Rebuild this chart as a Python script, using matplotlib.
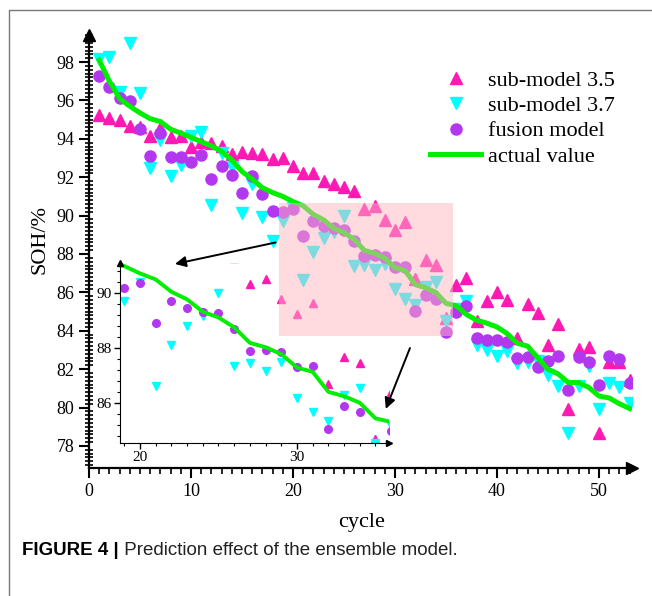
import numpy as np
import matplotlib
matplotlib.use("Agg")
import matplotlib.pyplot as plt
from matplotlib.ticker import MultipleLocator
from matplotlib.patches import Rectangle
from matplotlib.lines import Line2D

# data
cycle = np.arange(1, 54)
sub35 = [95.24, 95.07, 95.00, 94.67, 94.60, 94.15, 94.55, 94.11, 94.15, 93.59,
         93.85, 93.80, 93.63, 93.20, 93.33, 93.24, 93.20, 92.95, 92.98, 92.60,
         92.24, 92.24, 91.82, 91.65, 91.50, 91.30, 90.33, 90.51, 89.78, 89.24,
         89.66, 86.68, 87.68, 87.44, 84.66, 86.39, 86.75, 84.50, 85.57, 86.04,
         85.60, 83.60, 85.38, 84.94, 83.26, 84.35, 79.91, 83.04, 83.17, 78.69,
         82.39, 82.39, 81.44]
sub37 = [98.14, 98.24, 96.45, 98.97, 96.37, 92.46, 93.94, 92.08, 92.64, 94.15,
         94.37, 90.55, 93.24, 92.55, 90.12, 91.65, 89.94, 88.70, 89.72, 90.42,
         86.62, 88.11, 88.82, 89.17, 90.00, 87.35, 87.44, 87.16, 87.48, 86.16,
         85.65, 85.34, 86.28, 86.55, 84.52, 85.15, 85.57, 83.26, 83.00, 82.69,
         82.96, 82.31, 82.39, 82.40, 81.70, 81.13, 78.69, 81.13, 82.17, 79.91,
         81.26, 81.05, 80.22]
fusion = [97.27, 96.68, 96.14, 95.98, 94.50, 93.10, 94.32, 93.07, 93.07, 92.78,
          93.16, 91.89, 92.58, 92.11, 91.20, 92.08, 91.11, 90.26, 90.18, 90.37,
          88.93, 89.73, 89.45, 89.33, 89.27, 88.68, 87.90, 87.93, 87.84, 87.32,
          87.34, 85.04, 85.88, 85.67, 83.95, 84.98, 85.30, 83.60, 83.52, 83.52,
          83.43, 82.57, 82.65, 82.10, 82.44, 82.69, 80.92, 82.62, 82.39, 81.18,
          82.69, 82.51, 81.26]
actual = [98.10, 97.00, 96.10, 95.70, 95.35, 95.05, 94.90, 94.50, 94.30, 94.08,
          93.85, 93.63, 93.35, 92.90, 92.30, 91.90, 91.45, 91.20, 91.00, 90.73,
          90.51, 90.06, 89.78, 89.33, 89.12, 88.76, 88.19, 88.03, 87.78, 87.29,
          87.13, 86.40, 86.24, 86.00, 85.43, 85.30, 84.85, 84.55, 84.40, 84.20,
          83.85, 83.35, 83.20, 82.60, 82.00, 81.75, 81.30, 81.30, 81.05, 80.60,
          80.50, 80.20, 79.95]

C35 = '#FF19B4'
C37 = '#00FFFF'
CFU = '#B437F0'
CAC = '#00EE00'

serif = ['Liberation Serif', 'DejaVu Serif']
sans = ['Liberation Sans', 'DejaVu Sans']
plt.rcParams['font.family'] = serif

W, H = 652, 596


def px_box(l, t, r, b):
    return [l / W, 1 - b / H, (r - l) / W, (b - t) / H]


fig = plt.figure(figsize=(W / 100, H / 100), dpi=100)

# main axes
ax = fig.add_axes(px_box(89, 35, 632, 468))
ax.plot(cycle, sub35, '^', ls='none', color=C35, ms=8, label='sub-model 3.5')
ax.plot(cycle, sub37, 'v', ls='none', color=C37, ms=8, label='sub-model 3.7')
ax.plot(cycle, fusion, 'o', ls='none', color=CFU, ms=8, label='fusion model')
ax.plot(cycle, actual, '-', color=CAC, lw=3.6, label='actual value')

ax.set_xlim(0, 53.24)
ax.set_ylim(76.85, 99.41)
ax.xaxis.set_major_locator(MultipleLocator(10))
ax.xaxis.set_minor_locator(MultipleLocator(1))
ax.yaxis.set_major_locator(MultipleLocator(2))
ax.yaxis.set_minor_locator(MultipleLocator(0.2))
for s in ['top', 'right']:
    ax.spines[s].set_visible(False)
for s in ['left', 'bottom']:
    ax.spines[s].set_linewidth(1.6)
ax.tick_params(which='major', direction='out', length=7, width=1.5, labelsize=13)
ax.tick_params(which='minor', direction='out', length=4, width=1.2)
ax.tick_params(axis='y', which='minor', direction='inout', length=6)
ax.plot(1, 0, '>k', ms=9, transform=ax.transAxes, clip_on=False)
ax.plot(0, 1, '^k', ms=9, transform=ax.transAxes, clip_on=False)

ax.legend(loc='upper left', bbox_to_anchor=(430 / W, 1 - 70 / H),
          bbox_transform=fig.transFigure, frameon=False, borderpad=0,
          borderaxespad=0, handlelength=2.3, handletextpad=0.3,
          labelspacing=0.22, prop={'family': serif, 'size': 16})

fig.text(40 / W, 1 - 239 / H, 'SOH/%', rotation=90, ha='center', va='center', fontsize=16)
fig.text(362 / W, 1 - 522 / H, 'cycle', ha='center', va='center', fontsize=16)

# arrows to the zoomed view
ax.annotate('', xy=(8.43, 87.48), xytext=(18.3, 88.6),
            arrowprops=dict(arrowstyle='-|>', color='k', lw=1.4,
                            mutation_scale=16, shrinkA=0, shrinkB=0))
ax.annotate('', xy=(29.1, 79.93), xytext=(31.47, 83.1),
            arrowprops=dict(arrowstyle='-|>', color='k', lw=1.4,
                            mutation_scale=16, shrinkA=0, shrinkB=0))

# inset
axi = fig.add_axes(px_box(120, 263, 389, 443))
axi.set_facecolor('none')
axi.plot(cycle, sub35, '^', ls='none', color=C35, ms=5.5)
axi.plot(cycle, sub37, 'v', ls='none', color=C37, ms=5.5)
axi.plot(cycle, fusion, 'o', ls='none', color=CFU, ms=5.5)
axi.plot(cycle, actual, '-', color=CAC, lw=2.8)
axi.set_xlim(18.73, 35.86)
axi.set_ylim(84.53, 91.11)
axi.xaxis.set_major_locator(MultipleLocator(10))
axi.xaxis.set_minor_locator(MultipleLocator(1))
axi.yaxis.set_major_locator(MultipleLocator(2))
axi.yaxis.set_minor_locator(MultipleLocator(0.4))
for s in ['top', 'right']:
    axi.spines[s].set_visible(False)
axi.tick_params(which='major', direction='out', length=4, width=1.0, labelsize=11, pad=2)
axi.tick_params(which='minor', direction='out', length=2.5, width=0.8)
axi.plot(1, 0, '>k', ms=4, transform=axi.transAxes, clip_on=False)
axi.plot(0, 1, '^k', ms=4, transform=axi.transAxes, clip_on=False)

# highlighted region, drawn over both axes
fig.add_artist(Rectangle((18.66, 83.74), 35.7 - 18.66, 90.64 - 83.74,
                         transform=ax.transData, facecolor='#FFB6C1',
                         edgecolor='none', alpha=0.5, zorder=3))

# outer frame
fig.add_artist(Line2D([9 / W, 9 / W, 1.0], [0.0, 1 - 10 / H, 1 - 10 / H],
                      color='#777777', lw=1.0))

# caption
t1 = fig.text(22 / W, 1 - 555 / H, 'FIGURE 4 |', fontsize=13.5, fontweight='bold',
              family=sans, va='baseline')
ax.annotate(' Prediction effect of the ensemble model.', xy=(1, 0), xycoords=t1,
            va='bottom', ha='left', fontsize=13.5, family=sans, color='#222222')

fig.savefig('out.png', dpi=100)
